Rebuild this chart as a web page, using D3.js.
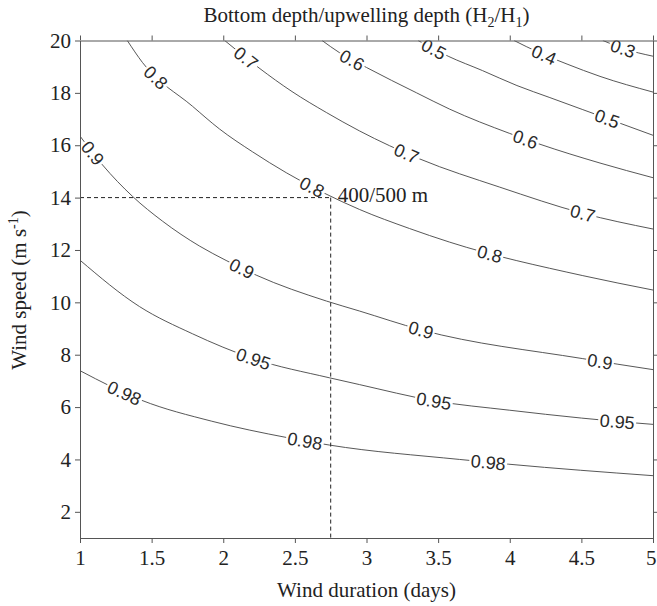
<!DOCTYPE html>
<html><head><meta charset="utf-8">
<script src="https://cdn.jsdelivr.net/npm/d3@7"></script>
<style>body{margin:0;background:#fff} svg{display:block}</style>
</head><body>
<svg id="c" width="657" height="606"></svg>
<script>
// ---- data ----
const xTicks = [1, 1.5, 2, 2.5, 3, 3.5, 4, 4.5, 5];
const yTicks = [2, 4, 6, 8, 10, 12, 14, 16, 18, 20];
const levels = [0.3, 0.4, 0.5, 0.6, 0.7, 0.8, 0.9, 0.95, 0.98];

// contour lines: [wind duration (days), wind speed (m/s)]
const line030 = [[4.65,20],[4.80,19.68],[5,19.40]];
const line040 = [[4.03,20],[4.20,19.55],[4.40,19.10],[4.63,18.63],[5,18.03]];
const line050 = [[3.36,20],[3.57,19.40],[3.81,18.85],[4.05,18.28],[4.28,17.82],[4.51,17.36],[4.75,16.88],[5,16.38]];
const line060 = [[2.69,20],[2.81,19.54],[3.0,18.97],[3.35,18.0],[3.58,17.38],[4.0,16.45],[4.21,16.04],[4.63,15.32],[5,14.76]];
const line070 = [[2.01,20],[2.25,18.95],[2.48,18.05],[2.72,17.25],[2.95,16.55],[3.37,15.48],[3.93,14.40],[4.51,13.40],[5,12.80]];
const line080 = [[1.33,20],[1.436,19.16],[1.785,17.49],[1.974,16.62],[2.204,15.75],[2.44,14.95],[2.95,13.55],[3.30,12.82],[3.58,12.30],[4.51,11.02],[5,10.47]];
const line090 = [[1,16.35],[1.157,15.25],[1.366,14.05],[1.576,13.10],[1.834,12.15],[2.02,11.60],[2.23,11.04],[2.72,10.05],[2.95,9.67],[3.38,8.95],[4.51,7.85],[5,7.43]];
const line095 = [[1,11.61],[1.415,9.84],[1.785,8.80],[2.21,7.85],[2.74,7.12],[2.95,6.86],[3.47,6.24],[4.0,5.88],[4.5,5.58],[4.75,5.45],[5,5.34]];
const line098 = [[1,7.39],[1.43,6.26],[1.92,5.46],[2.45,4.83],[2.74,4.55],[3.65,4.00],[3.99,3.82],[5,3.38]];

// label positions along each contour (wind duration, days)
const lab030 = [4.79];
const lab040 = [4.24];
const lab050 = [3.47, 4.68];
const lab060 = [2.90, 4.11];
const lab070 = [2.16, 3.28, 4.51];
const lab080 = [1.53, 2.62, 3.86];
const lab090 = [1.09, 2.13, 3.38, 4.63];
const lab095 = [2.21, 3.47, 4.75];
const lab098 = [1.31, 2.57, 3.85];

// reference case
const refDuration = 2.75, refSpeed = 14, refText = "400/500 m";

const lines = [line030,line040,line050,line060,line070,line080,line090,line095,line098];
const labs  = [lab030,lab040,lab050,lab060,lab070,lab080,lab090,lab095,lab098];
const contours = levels.map((lv,i)=>({level:lv, pts:lines[i], labels:labs[i]}));

// ---- drawing ----
const svg = d3.select('#c');
const X0 = 80, X1 = 653, Y0 = 40.5, Y1 = 538;
const x = d3.scaleLinear().domain([1,5]).range([X0,X1]);
const y = d3.scaleLinear().domain([1,20]).range([Y1,Y0]);
const serif = "'Liberation Serif','Times New Roman',serif";
const axisCol = '#555';
const FS = 21;

svg.append('defs').append('clipPath').attr('id','clip')
  .append('rect').attr('x',X0).attr('y',Y0).attr('width',X1-X0).attr('height',Y1-Y0);

const gLines = svg.append('g').attr('clip-path','url(#clip)');
const lineGen = d3.line().x(d=>x(d[0])).y(d=>y(d[1])).curve(d3.curveMonotoneX);

const gLab = svg.append('g').attr('clip-path','url(#clip)');

contours.forEach(c=>{
  const path = gLines.append('path').datum(c.pts)
    .attr('d', lineGen).attr('fill','none')
    .attr('stroke','#444').attr('stroke-width',0.9);
  const node = path.node();
  const total = node.getTotalLength();
  c.labels.forEach(lx=>{
    const px = x(lx);
    let lo=0, hi=total;
    for(let k=0;k<40;k++){ const m=(lo+hi)/2; if(node.getPointAtLength(m).x<px) lo=m; else hi=m; }
    const L=(lo+hi)/2;
    const p = node.getPointAtLength(L);
    const p1 = node.getPointAtLength(Math.max(0,L-6));
    const p2 = node.getPointAtLength(Math.min(total,L+6));
    const ang = Math.atan2(p2.y-p1.y, p2.x-p1.x)*180/Math.PI;
    const g = gLab.append('g').attr('transform',`translate(${p.x},${p.y}) rotate(${ang})`);
    const rect = g.append('rect').attr('fill','#fff');
    const t = g.append('text').text(String(c.level))
      .attr('text-anchor','middle').attr('dy','0.36em')
      .attr('font-family',"'Liberation Sans',Arial,sans-serif")
      .attr('font-size',18).attr('fill','#2a2a2a');
    const w = t.node().getComputedTextLength();
    rect.attr('x',-w/2-1.5).attr('y',-5).attr('width',w+3).attr('height',10);
  });
});

// dashed reference lines
const dash = svg.append('g').attr('stroke','#222').attr('stroke-width',1).attr('stroke-dasharray','4,3').attr('fill','none');
dash.append('line').attr('x1',x(1)).attr('x2',x(refDuration)).attr('y1',y(refSpeed)).attr('y2',y(refSpeed));
dash.append('line').attr('x1',x(refDuration)).attr('x2',x(refDuration)).attr('y1',y(refSpeed)).attr('y2',y(1));
svg.append('text').attr('x',x(refDuration)+7).attr('y',y(refSpeed)+4)
  .attr('font-family',serif).attr('font-size',FS).attr('fill','#222').text(refText);

// axes
function styleAxis(g){
  g.selectAll('path.domain').attr('stroke',axisCol);
  g.selectAll('.tick line').attr('stroke',axisCol);
  g.selectAll('.tick text').attr('font-family',serif).attr('font-size',FS).attr('fill','#222');
}
const gx = svg.append('g').attr('transform',`translate(0,${Y1})`)
  .call(d3.axisBottom(x).tickValues(xTicks).tickFormat(d=>String(d)).tickSize(5).tickSizeOuter(0).tickPadding(7)).call(styleAxis);
// keep the last tick label inside the page
gx.selectAll('.tick text').filter(d=>d===5).attr('text-anchor','end').attr('x',3);
svg.append('g').attr('transform',`translate(0,${Y0})`)
  .call(d3.axisTop(x).tickValues(xTicks).tickFormat('').tickSize(5).tickSizeOuter(0)).call(styleAxis);
svg.append('g').attr('transform',`translate(${X0},0)`)
  .call(d3.axisLeft(y).tickValues(yTicks).tickFormat(d=>String(d)).tickSize(5).tickSizeOuter(0).tickPadding(4)).call(styleAxis);
svg.append('g').attr('transform',`translate(${X1},0)`)
  .call(d3.axisRight(y).tickValues(yTicks).tickFormat('').tickSize(5).tickSizeOuter(0)).call(styleAxis);
svg.selectAll('.domain').attr('fill','none');

// titles
const cx = (X0+X1)/2;
svg.append('text').attr('x',cx).attr('y',597).attr('text-anchor','middle')
  .attr('font-family',serif).attr('font-size',FS).attr('fill','#222').text('Wind duration (days)');

const yt = svg.append('text').attr('transform','translate(26,290) rotate(-90)').attr('text-anchor','middle')
  .attr('font-family',serif).attr('font-size',FS).attr('fill','#222');
yt.append('tspan').text('Wind speed (m s');
yt.append('tspan').attr('font-size',14).attr('dy',-8).text('-1');
yt.append('tspan').attr('dy',8).text(')');

const tt = svg.append('text').attr('x',cx).attr('y',22).attr('text-anchor','middle')
  .attr('font-family',serif).attr('font-size',FS).attr('fill','#222');
tt.append('tspan').text('Bottom depth/upwelling depth (H');
tt.append('tspan').attr('font-size',14).attr('dy',5).text('2');
tt.append('tspan').attr('dy',-5).text('/H');
tt.append('tspan').attr('font-size',14).attr('dy',5).text('1');
tt.append('tspan').attr('dy',-5).text(')');
</script>
</body></html>
